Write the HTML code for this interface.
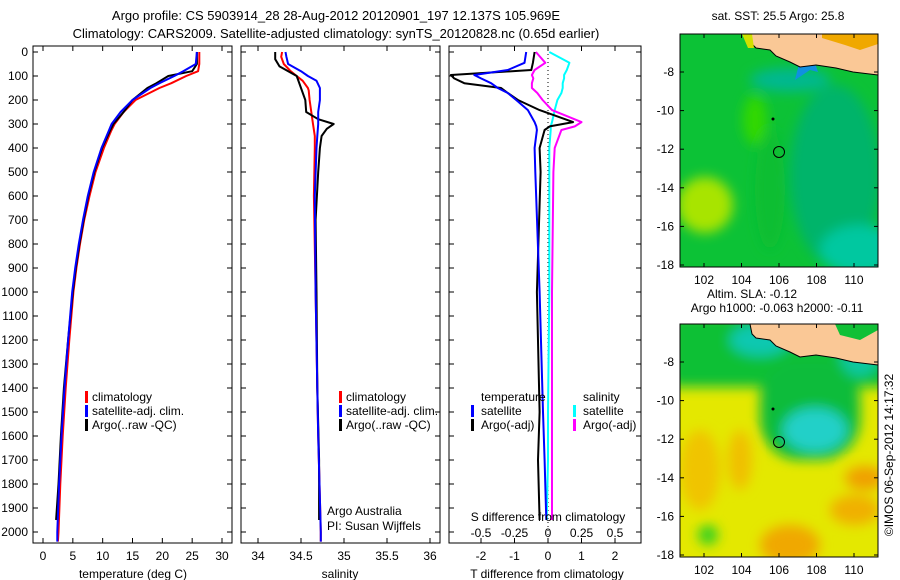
<!DOCTYPE html>
<html><head><meta charset="utf-8"><style>
body{margin:0;background:#fff}
svg{display:block;font-family:"Liberation Sans",sans-serif;font-size:12px}
</style></head><body>
<svg id="s" width="900" height="580" viewBox="0 0 900 580">
<defs>
<clipPath id="c1"><rect x="33" y="46" width="199" height="497"/></clipPath>
<clipPath id="c2"><rect x="241" y="46" width="199" height="497"/></clipPath>
<clipPath id="c3"><rect x="449" y="46" width="192" height="497"/></clipPath>
<clipPath id="m1"><rect x="680" y="34" width="198" height="233"/></clipPath>
<clipPath id="m2"><rect x="680" y="324" width="198" height="233"/></clipPath>
<filter id="bl"><feGaussianBlur stdDeviation="6"/></filter>
</defs>
<text x="336" y="20" text-anchor="middle" font-size="13">Argo profile: CS 5903914_28 28-Aug-2012 20120901_197 12.137S 105.969E</text>
<text x="336" y="38" text-anchor="middle" font-size="13">Climatology: CARS2009. Satellite-adjusted climatology: synTS_20120828.nc (0.65d earlier)</text>
<g id="g1"></g>
<g id="g2"></g>
<g id="g3"></g>

<g>
<text x="778" y="20" text-anchor="middle">sat. SST: 25.5 Argo: 25.8</text>
<g clip-path="url(#m1)">
<rect x="680" y="34" width="198" height="233" fill="#0cc236"/>
<g filter="url(#bl)">
<ellipse cx="835" cy="175" rx="45" ry="90" fill="#00b46a"/>
<ellipse cx="860" cy="250" rx="40" ry="25" fill="#00c8a0"/>
<ellipse cx="705" cy="205" rx="28" ry="28" fill="#a8e400"/>
<ellipse cx="790" cy="80" rx="40" ry="12" fill="#00b890"/>
<ellipse cx="770" cy="190" rx="15" ry="60" fill="#08be30"/>
<ellipse cx="755" cy="120" rx="12" ry="25" fill="#30d800"/>
</g>
<polygon points="795,80 810,70 818,72 815,63 800,60" fill="#1090e0"/>
<rect x="822" y="34" width="56" height="18" fill="#f0a800"/>
<polygon points="750,34 752,44 756,48 770,50 776,56 790,62 800,67 816,65 836,68 853,72 878,75 878,34" fill="#fac896" stroke="#000" stroke-width="1"/>
<polygon points="822,34 878,34 878,44 860,50 845,45 822,38" fill="#f0a800"/>
<polygon points="742,34 752,34 754,48 748,48" fill="#d0e000"/>
</g>
<rect x="680" y="34" width="198" height="233" fill="none" stroke="#000"/>
<circle cx="779" cy="152" r="5.5" fill="none" stroke="#000"/>
<circle cx="773" cy="119" r="1.5" fill="#000"/>
</g>

<g>
<text x="752" y="298" text-anchor="middle">Altim. SLA: -0.12</text>
<text x="777" y="312" text-anchor="middle">Argo h1000: -0.063 h2000: -0.11</text>
<g clip-path="url(#m2)">
<rect x="680" y="324" width="198" height="233" fill="#e4e800"/>
<g filter="url(#bl)">
<ellipse cx="700" cy="470" rx="20" ry="40" fill="#f0c400"/>
<ellipse cx="790" cy="545" rx="30" ry="20" fill="#f0a800"/>
<ellipse cx="855" cy="510" rx="25" ry="15" fill="#f0b000"/>
<ellipse cx="865" cy="478" rx="20" ry="12" fill="#f0a000"/>
<ellipse cx="740" cy="460" rx="12" ry="30" fill="#f0c000"/>
<ellipse cx="708" cy="535" rx="10" ry="10" fill="#30d020"/>
<rect x="670" y="315" width="220" height="72" fill="#10c036"/>
<rect x="760" y="360" width="100" height="100" rx="40" fill="#08bc3a"/>
<ellipse cx="815" cy="430" rx="32" ry="22" fill="#20d0c8"/>
<ellipse cx="760" cy="340" rx="30" ry="16" fill="#10c8b0"/>
<ellipse cx="860" cy="355" rx="20" ry="22" fill="#10c8a0"/>
</g>
<polygon points="750,324 752,334 756,338 770,340 776,346 790,352 800,357 816,355 836,358 853,362 878,365 878,324" fill="#fac896" stroke="#000" stroke-width="1"/>
<polygon points="835,324 878,324 878,330 860,340 840,335" fill="#10c036"/>
</g>
<rect x="680" y="324" width="198" height="233" fill="none" stroke="#000"/>
<circle cx="779" cy="442" r="5.5" fill="none" stroke="#000"/>
<circle cx="773" cy="409" r="1.5" fill="#000"/>
</g>
<text transform="translate(893,455) rotate(-90)" text-anchor="middle">©IMOS 06-Sep-2012 14:17:32</text>
<g id="mapaxes"></g>
</svg>
<script>
const depthsT = [0,50,80,100,130,150,200,250,300,330,400,500,600,700,800,900,1000,1200,1400,1600,1800,2000,2040];
const tClim   = [26.2,26.2,26.0,24.0,21.5,19.5,15.5,13.5,12.0,11.4,10.2,8.8,7.8,6.9,6.2,5.6,5.1,4.4,3.8,3.3,2.9,2.6,2.5];
const tSat    = [25.8,25.6,23.5,22.0,19.5,18.0,15.0,13.0,11.5,11.0,9.8,8.5,7.5,6.7,6.0,5.4,4.9,4.2,3.6,3.1,2.7,2.4,2.4];
const depthsA = [0,50,80,100,130,150,200,250,300,330,400,500,600,700,800,900,1000,1200,1400,1600,1800,1950];
const tArgo   = [25.8,25.8,25.0,21.0,19.0,17.5,15.0,13.5,11.8,11.2,9.9,8.6,7.6,6.8,6.1,5.5,5.0,4.2,3.5,3.0,2.6,2.2];
const depthsS = [0,20,50,80,100,120,150,160,200,250,300,350,400,600,1000,1400,1600,2000,2040];
const sClim   = [34.28,34.27,34.30,34.38,34.45,34.52,34.58,34.59,34.60,34.62,34.64,34.66,34.66,34.65,34.67,34.69,34.70,34.73,34.73];
const sSat    = [34.32,34.33,34.35,34.50,34.58,34.68,34.72,34.72,34.72,34.70,34.70,34.69,34.68,34.66,34.67,34.69,34.70,34.73,34.73];
const depthsSA= [0,30,60,100,150,200,250,280,300,320,350,400,500,700,1000,1400,1700,1950];
const sArgo   = [34.20,34.20,34.25,34.45,34.50,34.55,34.56,34.70,34.88,34.80,34.74,34.72,34.70,34.67,34.68,34.69,34.71,34.71];
const depthsD = [0,45,75,96,110,130,150,171,200,242,292,310,325,400,500,1000,1500,1700,1950];
const dTSat   = [-0.65,-0.7,-1.2,-2.2,-2.0,-1.7,-1.5,-1.2,-0.95,-0.6,-0.4,-0.35,-0.33,-0.4,-0.38,-0.25,-0.15,-0.1,-0.05];
const dTArgo  = [-0.4,-0.45,-0.5,-2.9,-2.8,-2.5,-1.4,-1.2,-0.9,-0.25,0.75,0.05,-0.1,-0.25,-0.22,-0.33,-0.25,-0.3,-0.25];
const dSSat   = [0.01,0.16,0.14,0.12,0.12,0.11,0.11,0.1,0.07,0.05,0.03,0.02,0.02,0.01,0.01,0.01,0.0,0.0,-0.01];
const dSArgo  = [-0.09,-0.02,-0.1,-0.12,-0.11,-0.12,-0.12,-0.08,-0.04,0.03,0.25,0.2,0.1,0.05,0.04,0.03,0.03,0.03,0.03];
const depthTicks = [0,100,200,300,400,500,600,700,800,900,1000,1100,1200,1300,1400,1500,1600,1700,1800,1900,2000];
const tTicks = [0,5,10,15,20,25,30];
const sTicks = [34,34.5,35,35.5,36];
const sTickLabels = ["34","34.5","35","35.5","36"];
const dTTicks = [-2,-1,0,1,2];
const dSTicks = [-0.5,-0.25,0,0.25,0.5];
const lonTicks = [102,104,106,108,110];
const latTicks = [-8,-10,-12,-14,-16,-18];
const yD = d => 52 + d*0.24;
const xT = t => 43 + t*5.967;
const xS = s => 258 + (s-34)*86;
const xDT = v => 548 + v*33.5;
const xDS = v => 548 + v*134;
const xLon = l => 704 + (l-102)*18.75;
const yLat1 = l => 72 + (-8-l)*19.3;
const yLat2 = l => 362 + (-8-l)*19.3;
const NS = "http://www.w3.org/2000/svg";
function mk(tag, attrs, parent){const e=document.createElementNS(NS,tag);for(const k in attrs)e.setAttribute(k,attrs[k]);parent.appendChild(e);return e;}
function line(parent, depths, vals, fx, color, w, name){
  const p = mk('polyline',{points:depths.map((d,i)=>fx(vals[i]).toFixed(1)+','+yD(d).toFixed(1)).join(' '),fill:'none',stroke:color,'stroke-width':w,'stroke-linejoin':'round'},parent);
  
  
}
function txt(parent, x, y, s, anchor, name){
  const t = mk('text',{x:x,y:y,'text-anchor':anchor||'start'},parent); t.textContent=s;
  
  
  return t;
}
function frame(g, x0, x1, name){
  const r = mk('rect',{x:x0,y:46,width:x1-x0,height:497,fill:'none',stroke:'#000'},g);
  
  
  depthTicks.forEach(d=>{mk('line',{x1:x0,x2:x0+5,y1:yD(d),y2:yD(d),stroke:'#000'},g);mk('line',{x1:x1-5,x2:x1,y1:yD(d),y2:yD(d),stroke:'#000'},g);});
}
function xticks(g, ticks, fx, labels, name){
  ticks.forEach((t,i)=>{const x=fx(t);mk('line',{x1:x,x2:x,y1:543,y2:538,stroke:'#000'},g);mk('line',{x1:x,x2:x,y1:46,y2:51,stroke:'#000'},g);
    txt(g,x,560,labels?labels[i]:String(t),'middle',name);});
}
function legbar(g,x,y,color){const r=mk('rect',{x:x,y:y,width:3,height:12,fill:color},g);
  
  }
const g1=document.getElementById('g1');
frame(g1,33,232,'temperature-frame');
depthTicks.forEach(d=>txt(g1,28,yD(d)+4,String(d),'end','depth-tick-label'));
xticks(g1,tTicks,xT,null,'temperature-tick-label');
txt(g1,133,578,'temperature (deg C)','middle','temperature-axis-title');
const c1=mk('g',{'clip-path':'url(#c1)'},g1);
line(c1,depthsT,tClim,xT,'#f00',2,'temperature-climatology-line');
line(c1,depthsA,tArgo,xT,'#000',2,'temperature-argo-line');
line(c1,depthsT,tSat,xT,'#00f',2,'temperature-satellite-line');
legbar(g1,85,391,'#f00');txt(g1,92,401,'climatology','start','legend-climatology');
legbar(g1,85,405,'#00f');txt(g1,92,415,'satellite-adj. clim.','start','legend-satellite');
legbar(g1,85,419,'#000');txt(g1,92,429,'Argo(..raw -QC)','start','legend-argo');
const g2=document.getElementById('g2');
frame(g2,241,440,'salinity-frame');
xticks(g2,sTicks,xS,sTickLabels,'salinity-tick-label');
txt(g2,340,578,'salinity','middle','salinity-axis-title');
const c2=mk('g',{'clip-path':'url(#c2)'},g2);
line(c2,depthsS,sClim,xS,'#f00',2,'salinity-climatology-line');
line(c2,depthsSA,sArgo,xS,'#000',2,'salinity-argo-line');
line(c2,depthsS,sSat,xS,'#00f',2,'salinity-satellite-line');
legbar(g2,339,391,'#f00');txt(g2,346,401,'climatology','start','legend-climatology');
legbar(g2,339,405,'#00f');txt(g2,346,415,'satellite-adj. clim.','start','legend-satellite');
legbar(g2,339,419,'#000');txt(g2,346,429,'Argo(..raw -QC)','start','legend-argo');
txt(g2,327,515,'Argo Australia','start','pi-institution');
txt(g2,327,530,'PI: Susan Wijffels','start','pi-name');
const g3=document.getElementById('g3');
frame(g3,449,641,'difference-frame');
xticks(g3,dTTicks,xDT,null,'t-diff-tick-label');
txt(g3,547,578,'T difference from climatology','middle','t-diff-axis-title');
mk('line',{x1:548,x2:548,y1:46,y2:543,stroke:'#000','stroke-dasharray':'1,3'},g3);
const c3=mk('g',{'clip-path':'url(#c3)'},g3);
line(c3,depthsD,dSSat,xDS,'#0ff',2,'s-diff-satellite-line');
line(c3,depthsD,dSArgo,xDS,'#f0f',2,'s-diff-argo-line');
line(c3,depthsD,dTArgo,xDT,'#000',2,'t-diff-argo-line');
line(c3,depthsD,dTSat,xDT,'#00f',2,'t-diff-satellite-line');
txt(g3,548,521,'S difference from climatology','middle','s-diff-axis-title');
dSTicks.forEach(v=>txt(g3,xDS(v),537,String(v),'middle','s-diff-tick-label'));
txt(g3,481,401,'temperature','start','legend-temperature-header');
legbar(g3,471,405,'#00f');txt(g3,481,415,'satellite','start','legend-t-satellite');
legbar(g3,471,419,'#000');txt(g3,481,429,'Argo(-adj)','start','legend-t-argo');
txt(g3,583,401,'salinity','start','legend-salinity-header');
legbar(g3,573,405,'#0ff');txt(g3,583,415,'satellite','start','legend-s-satellite');
legbar(g3,573,419,'#f0f');txt(g3,583,429,'Argo(-adj)','start','legend-s-argo');
const ma=document.getElementById('mapaxes');
[[yLat1,34,267],[yLat2,324,557]].forEach(([fy,top,bot])=>{
  lonTicks.forEach(l=>{const x=xLon(l);mk('line',{x1:x,x2:x,y1:bot,y2:bot-4,stroke:'#000'},ma);mk('line',{x1:x,x2:x,y1:top,y2:top+4,stroke:'#000'},ma);
    txt(ma,x,bot+17,String(l),'middle','lon-tick-label');});
  latTicks.forEach(l=>{const y=fy(l);mk('line',{x1:680,x2:684,y1:y,y2:y,stroke:'#000'},ma);mk('line',{x1:874,x2:878,y1:y,y2:y,stroke:'#000'},ma);
    txt(ma,674,y+4,String(l),'end','lat-tick-label');});
});
</script>
</body></html>
